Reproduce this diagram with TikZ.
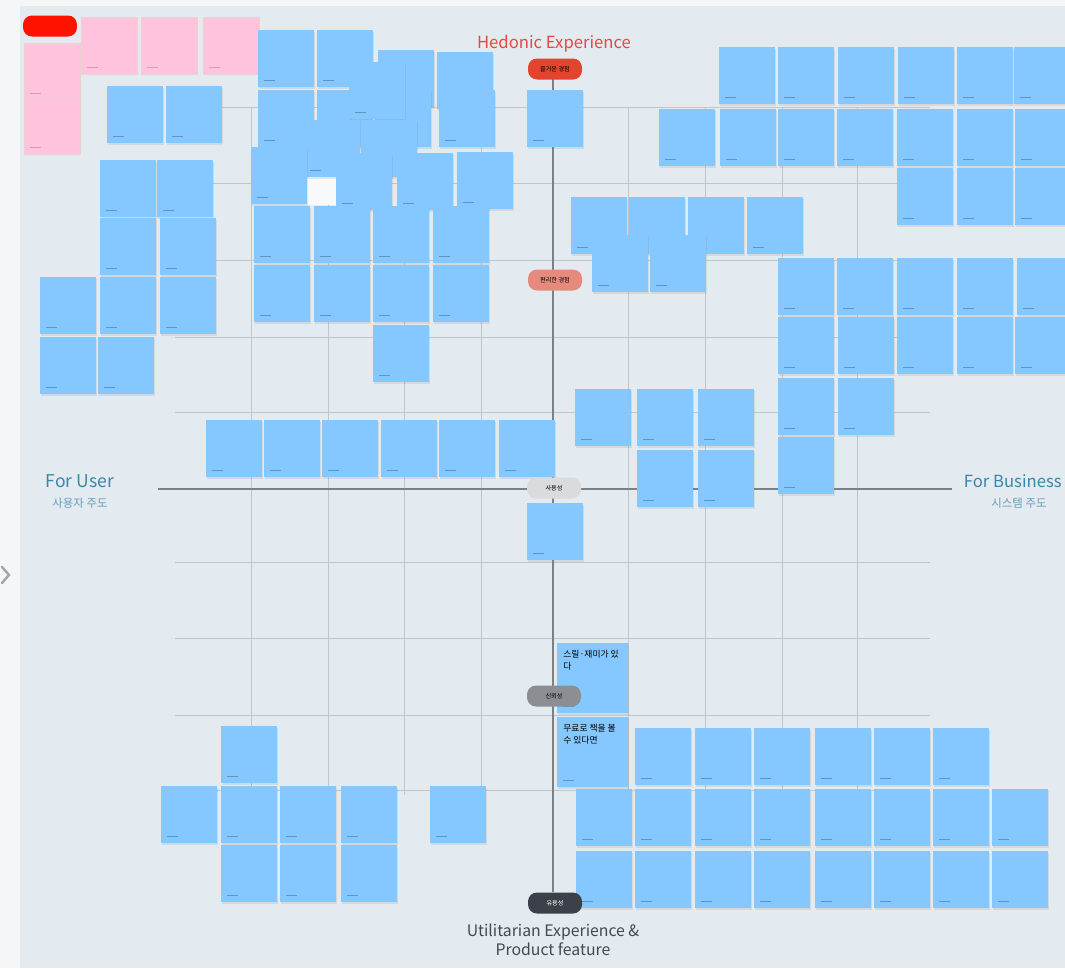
\documentclass[tikz,border=0pt]{standalone}
\usepackage{fontspec}
\setmainfont{Noto Sans CJK KR}
\usetikzlibrary{shadows}
\definecolor{pagebg}{HTML}{F4F6F8}
\definecolor{boardbg}{HTML}{E3EAF0}
\definecolor{noteblue}{HTML}{84C8FF}
\definecolor{notepink}{HTML}{FFC3DE}
\definecolor{notemark}{HTML}{5E95C4}
\definecolor{gridgray}{HTML}{BEC5CB}
\definecolor{axisgray}{HTML}{7C8187}
\definecolor{hedred}{HTML}{E8483F}
\definecolor{userteal}{HTML}{3C86A8}
\definecolor{utilgray}{HTML}{45494E}
\begin{document}
\begin{tikzpicture}[x=0.02cm, y=-0.02cm,
  sticky/.style={fill=noteblue, minimum width=1.12cm, minimum height=1.14cm, inner sep=0pt, anchor=north west,
    drop shadow={opacity=0.16, shadow xshift=0.3pt, shadow yshift=-0.7pt},
    path picture={\draw[notemark, line width=0.5pt] ([xshift=0.12cm, yshift=0.14cm]path picture bounding box.south west) -- ++(0.22cm,0);}},
  pinknote/.style={sticky, fill=notepink, draw=pink!75!gray!60, line width=0.3pt, path picture={\draw[pink!60!gray, line width=0.5pt] ([xshift=0.12cm, yshift=0.14cm]path picture bounding box.south west) -- ++(0.22cm,0);}},
  bignote/.style={sticky, minimum width=1.42cm, minimum height=1.40cm},
  notetext/.style={anchor=north west, inner sep=0pt, align=left, font=\fontsize{5}{7}\selectfont},
  pill/.style={rounded corners=0.18cm, minimum width=1.08cm, minimum height=0.42cm, inner sep=0pt, font=\fontsize{3.5}{4}\selectfont},
  gridline/.style={gridgray, line width=0.4pt},
  axisline/.style={axisgray, line width=1.2pt},
]
\useasboundingbox (0,0) rectangle (1065,968);
\fill[pagebg] (0,0) rectangle (1065,968);
\fill[boardbg] (20,6) rectangle (1065,968);
\draw[gray!70, line width=1.4pt, line cap=round] (2,567) -- (9,575) -- (2,583);

% grid
\foreach \x in {251,328,404,481,628,705,782,857}
  \draw[gridline] (\x,107) -- (\x,795);
\foreach \y in {107,183,260,337,412,562,638,715,790}
  \draw[gridline] (175,\y) -- (930,\y);

% axes
\coordinate (ytop) at (553,72);
\coordinate (ybot) at (553,892);
\coordinate (xleft) at (158,489);
\coordinate (xright) at (952,489);
\draw[axisline] (ytop) -- (ybot);
\draw[axisline] (xleft) -- (xright);

% axis labels
\node[hedred, font=\fontsize{9.5}{11}\selectfont] (hedonic) at (554,44) {Hedonic Experience};
\node[userteal, font=\fontsize{10}{12}\selectfont] (foruser) at (80,481) {For User};
\node[userteal!80, font=\fontsize{6.5}{8}\selectfont] (userdrv) at (80,503) {사용자 주도};
\node[userteal, font=\fontsize{9.5}{12}\selectfont, anchor=east, inner xsep=0pt] (forbiz) at (1062,481) {For Business};
\node[userteal!80, font=\fontsize{6.5}{8}\selectfont] (sysdrv) at (1019,503) {시스템 주도};
\node[utilgray, font=\fontsize{9}{11}\selectfont, align=center] (utilit) at (553,940) {Utilitarian Experience \&\\Product feature};

% pink notes
\foreach \x/\y [count=\i] in {24/43,24/97,81/17,141/17,203/17}
  \node[pinknote] (pk\i) at (\x,\y) {};

% upper left notes
\foreach \x/\y [count=\i] in {107/86,166/86,100/160,157/160,100/218,160/218,100/277,160/277,40/277,40/337,98/337}
  \node[sticky] (ul\i) at (\x,\y) {};

% overlapping cluster
\node[fill=white!70!boardbg, minimum width=0.62cm, minimum height=0.62cm, inner sep=0pt, anchor=north west] (blanknote) at (305,174) {};
\foreach \x/\y [count=\i] in {258/30,317/30,378/50,437/52,258/90,317/90,375/90,439/90,349/62,304/120,361/120,251/147,336/153,397/153,457/152}
  \node[sticky] (cl\i) at (\x,\y) {};

\foreach \x/\y [count=\i] in {254/206,314/206,373/206,433/206,254/265,314/265,373/265,433/265,373/325,206/420,264/420,322/420,381/420,439/420,499/420}
  \node[sticky] (um\i) at (\x,\y) {};

% upper right notes
\foreach \x/\y [count=\i] in {527/90,719/47,778/47,838/47,898/47,957/47,1014/47,659/109,720/109,778/109,837/109,897/109,957/109,1015/109,897/168,957/168,1015/168,571/197,629/197,688/197,747/197,592/235,650/235,778/258,837/258,897/258,957/258,1017/258,778/317,838/317,897/317,957/317,1015/317,778/378,838/378,778/437,575/389,637/389,698/389,637/450,698/450}
  \node[sticky] (ur\i) at (\x,\y) {};

% lower notes
\foreach \x/\y [count=\i] in {527/503,221/726,161/786,221/786,280/786,341/786,430/786,221/845,280/845,341/845}
  \node[sticky] (ll\i) at (\x,\y) {};
\node[bignote] (big1) at (557,643) {};
\node[notetext] (big1t) at ([xshift=0.12cm, yshift=-0.14cm]big1.north west) {스릴·재미가 있\\다};
\node[bignote] (big2) at (557,717) {};
\node[notetext] (big2t) at ([xshift=0.12cm, yshift=-0.14cm]big2.north west) {무료로 책을 볼\\수 있다면};
\foreach \x [count=\i] in {635,695,754,815,874,933}
  \node[sticky] (lra\i) at (\x,728) {};
\foreach \x [count=\i] in {576,635,695,754,815,874,933,992} {
  \node[sticky] (lrb\i) at (\x,789) {};
  \node[sticky] (lrc\i) at (\x,851) {};
}

% pills on the axis
\node[pill, fill=red!85!orange] (tagtl) at (50,26) {};
\node[pill, fill={rgb,255:red,228;green,68;blue,46}] (tagfun) at (555,69) {즐거운 경험};
\node[pill, fill={rgb,255:red,230;green,138;blue,125}] (tageasy) at (555,280) {편리한 경험};
\node[pill, fill={rgb,255:red,217;green,219;blue,221}] (tagusab) at (554,488) {사용성};
\node[pill, fill={rgb,255:red,139;green,142;blue,146}] (tagtrust) at (554,696) {신뢰성};
\node[pill, fill={rgb,255:red,59;green,64;blue,73}, text=white] (taguse) at (555,903) {유용성};
\end{tikzpicture}
\end{document}
